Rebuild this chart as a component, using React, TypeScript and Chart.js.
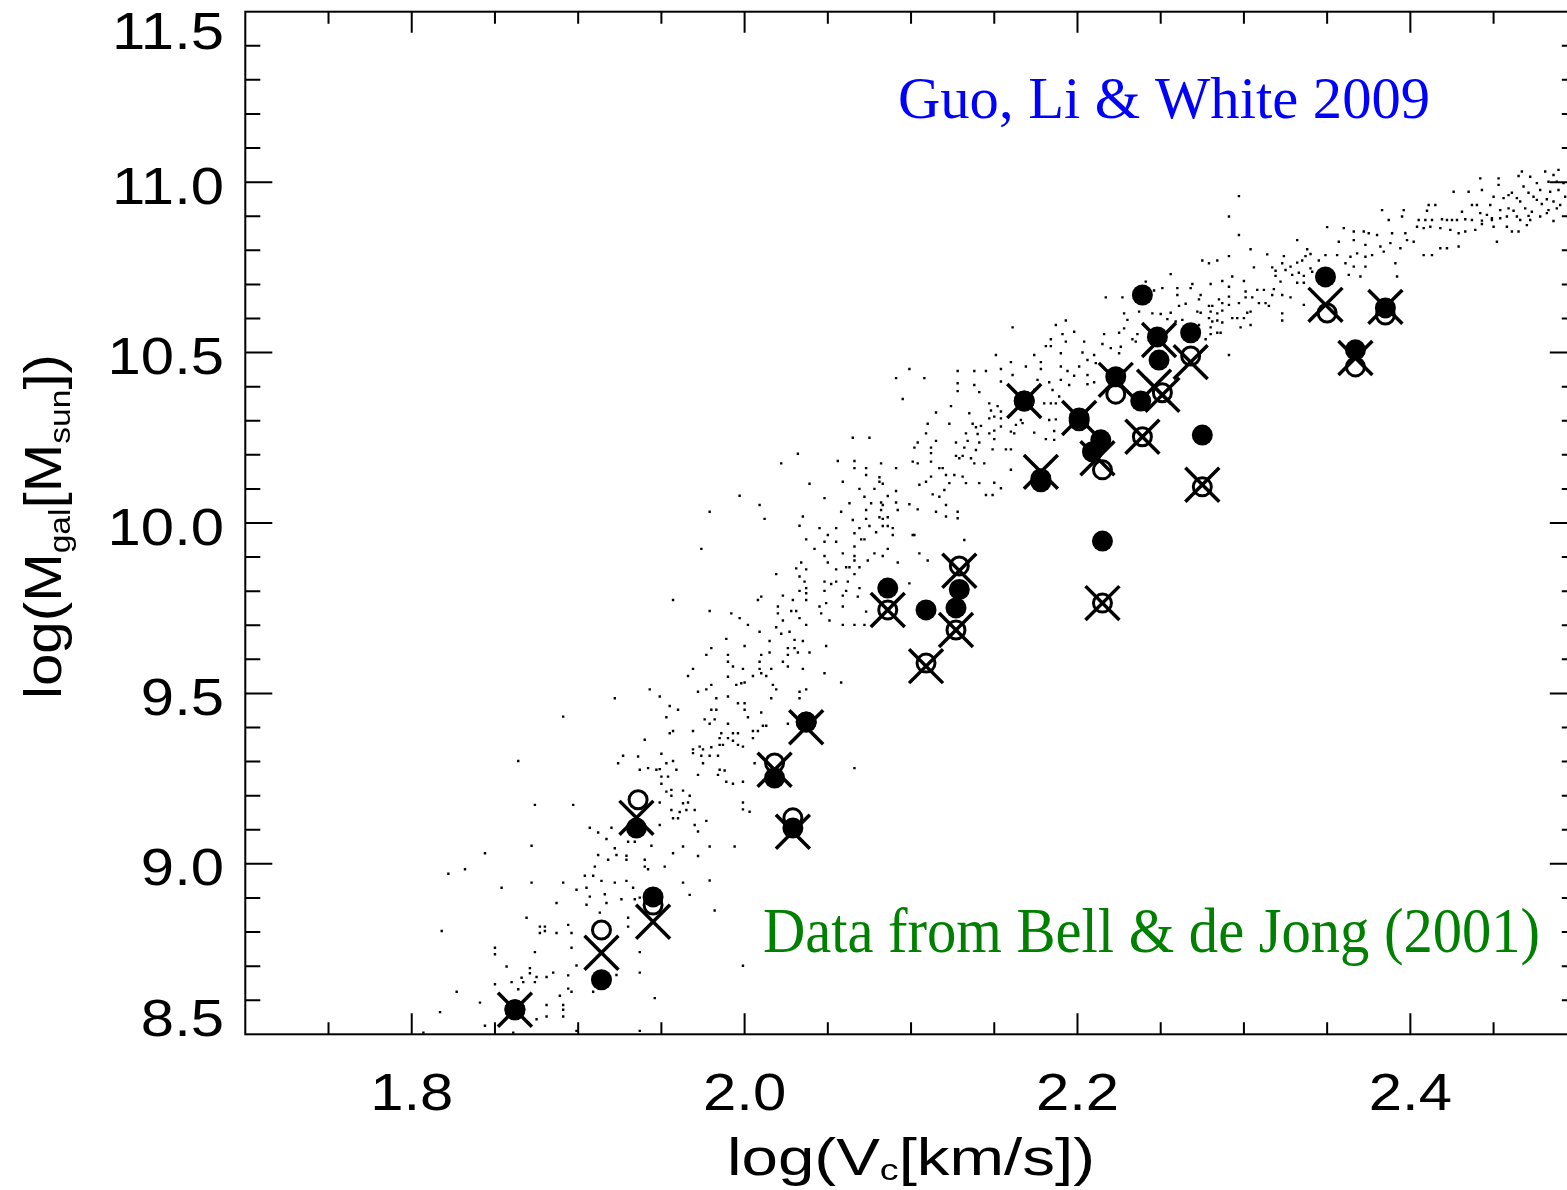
import React, { useEffect, useRef } from "react";
import { Chart, registerables } from "chart.js";

Chart.register(...registerables);

// ---- axis ranges & tick labels ----
const X_RANGE = [1.7, 2.5];
const Y_RANGE = [8.5, 11.5];
const xTickValues = [1.8, 2.0, 2.2, 2.4];
const xTickLabels = ["1.8", "2.0", "2.2", "2.4"];
const yTickValues = [8.5, 9.0, 9.5, 10.0, 10.5, 11.0, 11.5];
const yTickLabels = ["8.5", "9.0", "9.5", "10.0", "10.5", "11.0", "11.5"];

const annotationModel = "Guo, Li & White 2009";
const annotationData = "Data from Bell & de Jong (2001)";

// ---- Bell & de Jong (2001) galaxies: [log Vc, log Mgal] ----
const bellFilled: [number, number][] = [
  [1.862, 8.572], [1.914, 8.66], [1.945, 8.903], [1.935, 9.105], [2.018, 9.252], [2.029, 9.105],
  [2.037, 9.416], [2.086, 9.809], [2.109, 9.745], [2.129, 9.805], [2.127, 9.751], [2.168, 10.358],
  [2.178, 10.121], [2.201, 10.308], [2.215, 9.947], [2.214, 10.244], [2.209, 10.209], [2.223, 10.429],
  [2.239, 10.669], [2.238, 10.358], [2.248, 10.546], [2.249, 10.478], [2.268, 10.558], [2.275, 10.258],
  [2.349, 10.722], [2.367, 10.508], [2.385, 10.631],
];
const bellOpen: [number, number][] = [
  [1.862, 8.572], [1.914, 8.806], [1.945, 8.879], [1.936, 9.188], [2.018, 9.296], [2.029, 9.135],
  [2.037, 9.416], [2.086, 9.745], [2.109, 9.589], [2.129, 9.874], [2.127, 9.686], [2.168, 10.358],
  [2.178, 10.13], [2.201, 10.3], [2.215, 9.765], [2.215, 10.156], [2.223, 10.378], [2.239, 10.253],
  [2.251, 10.382], [2.268, 10.49], [2.275, 10.106], [2.35, 10.616], [2.367, 10.458], [2.385, 10.61],
];
const bellCross: [number, number][] = [
  [1.862, 8.572], [1.914, 8.739], [1.945, 8.83], [1.935, 9.135], [2.018, 9.276], [2.029, 9.094],
  [2.037, 9.401], [2.086, 9.745], [2.109, 9.58], [2.129, 9.86], [2.127, 9.686], [2.168, 10.358],
  [2.178, 10.15], [2.201, 10.308], [2.215, 9.765], [2.212, 10.19], [2.223, 10.42], [2.239, 10.253],
  [2.246, 10.4], [2.249, 10.537], [2.251, 10.376], [2.268, 10.472], [2.275, 10.112], [2.349, 10.64],
  [2.367, 10.484], [2.385, 10.634],
];

// ---- model galaxies (small dots): [log Vc, log Mgal] ----
const modelGalaxies: [number, number][] = [
  [1.891,9.432],[1.940,9.364],[1.864,9.302],[1.927,9.317],[1.924,9.295],[1.936,9.315],[1.937,9.276],[1.942,9.281],[1.947,9.276],[1.874,9.173],[1.897,9.173],[1.872,9.053],[1.844,9.031],[1.822,8.971],[1.832,8.984],[1.854,8.930],[1.872,8.945],[1.891,8.945],[1.907,9.106],[1.912,9.092],[1.917,9.073],[1.920,9.106],[1.922,9.046],[1.912,9.026],[1.918,9.012],[1.923,9.026],[1.929,9.024],[1.929,9.012],[1.930,9.065],[1.934,9.065],[1.944,9.053],[1.940,9.012],[1.940,8.992],[1.942,8.984],[1.910,8.992],[1.904,8.965],[1.909,8.965],[1.914,8.950],[1.922,8.945],[1.929,8.950],[1.899,8.924],[1.905,8.930],[1.907,8.904],[1.916,8.911],[1.933,8.930],[1.926,8.896],[1.905,8.880],[1.917,8.885],[1.887,8.885],[1.869,8.842],[1.913,8.857],[1.818,8.803],[1.877,8.816],[1.880,8.816],[1.877,8.797],[1.880,8.803],[1.887,8.797],[1.894,8.821],[1.896,8.797],[1.896,8.754],[1.874,8.741],[1.850,8.754],[1.850,8.735],[1.857,8.699],[1.871,8.694],[1.871,8.679],[1.875,8.668],[1.881,8.668],[1.885,8.681],[1.866,8.666],[1.867,8.653],[1.860,8.653],[1.864,8.632],[1.850,8.647],[1.874,8.653],[1.894,8.673],[1.899,8.702],[1.894,8.634],[1.896,8.625],[1.889,8.613],[1.891,8.586],[1.891,8.572],[1.891,8.552],[1.881,8.586],[1.881,8.552],[1.875,8.544],[1.841,8.593],[1.827,8.625],[1.817,8.565],[1.844,8.525],[1.807,8.505],[1.861,8.505],[1.909,8.625],[1.923,8.674],[1.937,8.741],[1.937,8.681],[1.946,8.606],[1.937,8.510],[1.899,8.510],[1.937,8.901],[1.934,8.896],[1.930,8.842],[1.930,8.816],
  [1.950,9.323],[1.969,9.325],[1.974,9.317],[1.979,9.317],[1.984,9.317],[1.949,9.278],[1.953,9.295],[1.957,9.302],[1.959,9.276],[1.972,9.261],[1.975,9.295],[1.985,9.276],[1.988,9.274],[1.984,9.261],[1.989,9.241],[1.993,9.235],[1.999,9.241],[2.006,9.295],[1.950,9.256],[1.954,9.256],[1.950,9.235],[1.953,9.212],[1.956,9.217],[1.956,9.200],[1.963,9.215],[1.967,9.200],[1.963,9.178],[1.966,9.180],[1.970,9.158],[1.965,9.158],[1.961,9.152],[1.956,9.158],[1.957,9.134],[1.960,9.134],[1.977,9.126],[1.970,9.114],[1.972,9.095],[1.949,9.114],[1.949,9.180],[1.999,9.180],[1.999,9.160],[2.003,9.153],[1.963,9.051],[1.972,9.023],[1.979,9.051],[1.994,9.051],[1.957,9.031],[1.952,8.992],[1.963,8.945],[1.967,8.909],[1.979,8.951],[1.982,8.863],[1.999,8.701],
  [2.065,10.250],[2.075,10.250],[2.032,10.203],[2.022,10.175],[2.056,10.182],[2.066,10.182],[2.066,10.161],[2.073,10.161],[2.082,10.175],[2.091,10.161],[2.073,10.141],[2.081,10.134],[2.081,10.121],[2.083,10.115],[2.059,10.121],[2.039,10.115],[2.069,10.100],[2.078,10.100],[2.091,10.094],[2.072,10.077],[2.086,10.079],[1.997,10.080],[2.009,10.053],[2.048,10.073],[2.063,10.058],[2.076,10.058],[2.082,10.060],[2.083,10.053],[2.091,10.060],[2.073,10.038],[2.082,10.038],[2.092,10.038],[1.979,10.033],[2.012,10.012],[2.035,10.019],[2.058,10.033],[2.065,10.009],[2.073,10.012],[2.081,10.017],[2.086,10.017],[2.083,10.012],[2.033,9.992],[2.045,9.985],[2.050,9.965],[2.055,9.985],[2.069,9.985],[2.075,9.991],[2.083,9.991],[2.086,9.991],[2.089,9.985],[2.066,9.970],[2.079,9.973],[2.089,9.965],[2.037,9.952],[2.048,9.945],[2.055,9.945],[2.070,9.952],[2.072,9.952],[2.066,9.931],[2.042,9.924],[2.086,9.924],[1.974,9.924],[2.059,9.911],[2.066,9.903],[2.078,9.911],[2.083,9.903],[2.048,9.903],[2.066,9.890],[2.074,9.890],[2.092,9.884],[2.034,9.884],[2.050,9.884],[2.031,9.867],[2.037,9.864],[2.055,9.864],[2.061,9.870],[2.063,9.870],[2.069,9.870],[2.066,9.850],[2.019,9.850],[2.033,9.843],[2.036,9.828],[2.048,9.828],[2.052,9.821],[2.055,9.828],[2.062,9.828],[2.069,9.809],[2.037,9.809],[2.033,9.801],[2.048,9.801],[2.061,9.801],[2.059,9.787],[2.068,9.784],[2.023,9.787],[2.037,9.794],[2.010,9.784],[2.008,9.774],[2.029,9.774],[2.037,9.774],[2.049,9.765],[1.957,9.774],[2.020,9.755],[2.045,9.755],[2.059,9.755],[2.020,9.735],[2.028,9.742],[2.031,9.742],[2.046,9.735],[2.073,9.740],[1.979,9.742],[1.992,9.735],[1.997,9.721],[2.033,9.721],[2.023,9.714],[2.051,9.714],[2.002,9.701],[2.019,9.694],[2.037,9.701],[2.059,9.701],[2.066,9.701],[2.072,9.701],[2.009,9.681],[2.022,9.675],[2.027,9.681],[1.989,9.660],[2.015,9.654],[2.030,9.657],[2.035,9.654],[1.980,9.633],[2.000,9.639],[2.026,9.633],[2.030,9.633],[2.049,9.639],[1.977,9.613],[1.990,9.613],[2.010,9.613],[2.015,9.620],[2.026,9.613],[2.032,9.620],[2.039,9.620],[1.990,9.593],[2.009,9.593],[2.023,9.593],[1.993,9.579],[1.969,9.572],[1.999,9.572],[2.009,9.572],[2.016,9.572],[2.026,9.579],[2.035,9.572],[1.966,9.551],[1.990,9.549],[2.005,9.551],[2.010,9.559],[2.013,9.551],[2.048,9.559],[1.943,9.512],[1.980,9.525],[1.995,9.525],[1.998,9.530],[2.000,9.532],[2.017,9.525],[2.019,9.512],[2.037,9.512],[2.058,9.532],[1.972,9.505],[1.977,9.512],[1.949,9.491],[1.922,9.486],[1.990,9.491],[2.016,9.486],[2.033,9.505],[2.033,9.486],[1.983,9.486],[1.955,9.463],[1.960,9.452],[1.980,9.452],[1.983,9.452],[1.996,9.471],[2.000,9.471],[2.000,9.452],[2.010,9.444],[1.953,9.430],[2.002,9.430],[1.976,9.424],[1.982,9.424],[1.979,9.411],[1.990,9.411],[2.011,9.405],[2.013,9.405],[2.026,9.411],[1.957,9.390],[1.955,9.383],[1.969,9.390],[1.986,9.383],[1.993,9.383],[1.996,9.383],[2.005,9.390],[2.008,9.390],[1.990,9.369],[1.985,9.369],[2.005,9.369],[1.993,9.361],[1.985,9.349],[1.987,9.349],[1.980,9.342],[1.996,9.349],[1.999,9.344],[1.973,9.344],[1.975,9.336],[1.969,9.336],[2.066,9.281],
  [2.151,10.493],[2.174,10.493],[2.190,10.498],[2.203,10.500],[2.210,10.493],[2.225,10.498],[2.291,10.493],[2.160,10.472],[2.169,10.459],[2.178,10.472],[2.178,10.452],[2.190,10.459],[2.194,10.446],[2.201,10.459],[2.206,10.478],[2.211,10.469],[2.099,10.452],[2.128,10.446],[2.138,10.446],[2.145,10.446],[2.154,10.452],[2.161,10.434],[2.091,10.425],[2.108,10.425],[2.128,10.410],[2.138,10.405],[2.154,10.415],[2.176,10.420],[2.183,10.413],[2.190,10.420],[2.195,10.405],[2.198,10.432],[2.206,10.434],[2.210,10.413],[2.206,10.407],[2.128,10.387],[2.141,10.384],[2.174,10.390],[2.185,10.390],[2.189,10.371],[2.095,10.364],[2.147,10.351],[2.152,10.343],[2.124,10.343],[2.115,10.324],[2.135,10.322],[2.148,10.330],[2.154,10.327],[2.150,10.312],[2.147,10.307],[2.154,10.307],[2.180,10.351],[2.184,10.351],[2.187,10.351],[2.187,10.304],[2.183,10.302],[2.166,10.302],[2.110,10.291],[2.123,10.291],[2.137,10.291],[2.139,10.281],[2.142,10.285],[2.154,10.283],[2.150,10.271],[2.160,10.268],[2.167,10.293],[2.174,10.265],[2.186,10.270],[2.109,10.263],[2.133,10.263],[2.140,10.261],[2.147,10.263],[2.162,10.263],[2.163,10.288],[2.104,10.236],[2.115,10.241],[2.127,10.236],[2.134,10.241],[2.141,10.236],[2.150,10.246],[2.181,10.246],[2.186,10.244],[2.102,10.221],[2.112,10.221],[2.132,10.221],[2.139,10.214],[2.149,10.216],[2.157,10.216],[2.160,10.216],[2.101,10.180],[2.104,10.175],[2.112,10.205],[2.112,10.180],[2.117,10.161],[2.119,10.161],[2.127,10.197],[2.129,10.190],[2.131,10.197],[2.136,10.190],[2.138,10.175],[2.144,10.175],[2.121,10.141],[2.126,10.141],[2.131,10.136],[2.123,10.117],[2.133,10.117],[2.141,10.117],[2.150,10.118],[2.160,10.156],[2.112,10.136],[2.105,10.112],[2.109,10.121],[2.113,10.084],[2.117,10.077],[2.120,10.097],[2.121,10.053],[2.145,10.082],[2.149,10.082],[2.154,10.102],[2.099,10.055],[2.104,10.040],[2.115,10.033],[2.128,10.033],[2.121,10.019],[2.128,10.014],[2.101,9.965],[2.102,9.965],[2.132,9.950],[2.105,9.911],[2.110,9.890],[2.099,9.823],
  [2.297,10.959],[2.291,10.899],[2.297,10.845],[2.350,10.868],[2.332,10.830],[2.338,10.803],[2.304,10.803],[2.314,10.788],[2.324,10.783],[2.291,10.783],[2.337,10.783],[2.340,10.789],[2.349,10.786],[2.275,10.770],[2.279,10.762],[2.284,10.770],[2.306,10.750],[2.317,10.750],[2.323,10.762],[2.328,10.752],[2.332,10.764],[2.335,10.770],[2.340,10.747],[2.345,10.770],[2.256,10.730],[2.293,10.723],[2.300,10.710],[2.319,10.740],[2.319,10.725],[2.325,10.742],[2.329,10.728],[2.333,10.734],[2.336,10.725],[2.341,10.737],[2.322,10.708],[2.332,10.705],[2.336,10.705],[2.241,10.708],[2.269,10.701],[2.280,10.701],[2.287,10.710],[2.291,10.693],[2.251,10.689],[2.260,10.689],[2.268,10.689],[2.260,10.669],[2.246,10.682],[2.217,10.662],[2.227,10.662],[2.261,10.637],[2.265,10.643],[2.273,10.656],[2.274,10.669],[2.279,10.637],[2.281,10.637],[2.285,10.656],[2.287,10.645],[2.291,10.664],[2.291,10.640],[2.297,10.645],[2.301,10.662],[2.305,10.662],[2.308,10.684],[2.312,10.684],[2.309,10.645],[2.313,10.645],[2.315,10.637],[2.317,10.669],[2.318,10.686],[2.323,10.669],[2.328,10.662],[2.336,10.640],[2.301,10.679],[2.256,10.617],[2.228,10.615],[2.237,10.620],[2.245,10.615],[2.250,10.613],[2.272,10.620],[2.274,10.617],[2.280,10.620],[2.284,10.615],[2.287,10.623],[2.293,10.601],[2.296,10.601],[2.300,10.601],[2.302,10.617],[2.304,10.620],[2.323,10.615],[2.323,10.594],[2.279,10.601],[2.281,10.591],[2.284,10.594],[2.287,10.588],[2.259,10.591],[2.263,10.596],[2.254,10.598],[2.230,10.596],[2.228,10.571],[2.225,10.558],[2.216,10.554],[2.236,10.554],[2.273,10.581],[2.280,10.574],[2.284,10.558],[2.286,10.558],[2.298,10.574],[2.304,10.581],[2.277,10.539],[2.280,10.554],[2.161,10.574],[2.187,10.581],[2.193,10.594],[2.191,10.554],[2.198,10.561],[2.184,10.539],[2.181,10.519],[2.184,10.519],[2.193,10.532],[2.204,10.532],[2.215,10.525],[2.220,10.513],[2.226,10.517],[2.235,10.532],[2.233,10.539],
  [2.442,11.011],[2.453,11.011],[2.467,11.031],[2.472,11.016],[2.481,11.031],[2.486,11.021],[2.465,11.018],[2.489,11.036],[2.476,10.997],[2.483,11.001],[2.488,11.001],[2.492,10.997],[2.426,10.972],[2.435,10.972],[2.443,10.977],[2.453,10.992],[2.468,10.987],[2.471,10.969],[2.478,10.977],[2.484,10.972],[2.489,10.977],[2.493,10.957],[2.450,10.957],[2.456,10.953],[2.459,10.962],[2.461,10.969],[2.464,10.953],[2.466,10.943],[2.474,10.957],[2.476,10.948],[2.482,10.950],[2.486,10.943],[2.490,10.933],[2.411,10.933],[2.415,10.933],[2.437,10.933],[2.440,10.933],[2.448,10.933],[2.454,10.918],[2.459,10.923],[2.462,10.916],[2.469,10.923],[2.473,10.913],[2.479,10.936],[2.483,10.918],[2.488,10.923],[2.383,10.918],[2.396,10.918],[2.410,10.916],[2.431,10.913],[2.442,10.909],[2.446,10.904],[2.449,10.894],[2.454,10.894],[2.458,10.899],[2.464,10.899],[2.466,10.889],[2.471,10.901],[2.478,10.899],[2.482,10.909],[2.387,10.889],[2.395,10.899],[2.405,10.889],[2.409,10.889],[2.413,10.889],[2.419,10.891],[2.422,10.889],[2.425,10.889],[2.428,10.889],[2.433,10.891],[2.437,10.889],[2.443,10.887],[2.449,10.889],[2.472,10.889],[2.486,10.886],[2.360,10.865],[2.366,10.855],[2.372,10.855],[2.375,10.850],[2.380,10.845],[2.389,10.850],[2.397,10.850],[2.404,10.869],[2.408,10.865],[2.412,10.869],[2.418,10.865],[2.424,10.860],[2.429,10.850],[2.433,10.855],[2.439,10.860],[2.443,10.877],[2.450,10.869],[2.458,10.869],[2.461,10.855],[2.465,10.855],[2.470,10.874],[2.452,10.825],[2.357,10.825],[2.366,10.830],[2.373,10.816],[2.382,10.811],[2.388,10.821],[2.394,10.806],[2.398,10.830],[2.402,10.825],[2.408,10.786],[2.413,10.786],[2.418,10.806],[2.422,10.806],[2.429,10.811],[2.356,10.786],[2.364,10.781],[2.368,10.791],[2.373,10.781],[2.377,10.786],[2.384,10.796],[2.391,10.762],[2.361,10.762],[2.366,10.752],[2.373,10.752],[2.363,10.728],[2.370,10.723],[2.392,10.723],
];

const SANS = '"Liberation Sans", Arial, Helvetica, sans-serif';
const SERIF = '"Liberation Serif", "Times New Roman", serif';

type Run = { text: string; size: number; dy: number };

function drawRuns(ctx: CanvasRenderingContext2D, runs: Run[], startX: number, baseline: number, targetWidth: number) {
  let total = 0;
  const widths: number[] = [];
  for (const r of runs) {
    ctx.font = `${r.size}px ${SANS}`;
    const w = ctx.measureText(r.text).width;
    widths.push(w);
    total += w;
  }
  const sx = targetWidth / total;
  ctx.save();
  ctx.translate(startX, baseline);
  ctx.scale(sx, 1);
  ctx.textAlign = "left";
  ctx.textBaseline = "alphabetic";
  let cx = 0;
  runs.forEach((r, i) => {
    ctx.font = `${r.size}px ${SANS}`;
    ctx.fillText(r.text, cx, r.dy);
    cx += widths[i];
  });
  ctx.restore();
}

function drawFitText(ctx: CanvasRenderingContext2D, text: string, font: string, x: number, baseline: number, width: number, color: string) {
  ctx.save();
  ctx.font = font;
  const w = ctx.measureText(text).width;
  ctx.translate(x, baseline);
  ctx.scale(width / w, 1);
  ctx.fillStyle = color;
  ctx.textAlign = "left";
  ctx.textBaseline = "alphabetic";
  ctx.fillText(text, 0, 0);
  ctx.restore();
}

const idlAxesPlugin = {
  id: "idlAxes",
  afterDraw(chart: any) {
    const ctx: CanvasRenderingContext2D = chart.ctx;
    const { left, right, top, bottom } = chart.chartArea;
    const xs = chart.scales.x;
    const ys = chart.scales.y;
    ctx.save();
    ctx.strokeStyle = "#000";
    ctx.fillStyle = "#000";
    ctx.lineWidth = 2;
    ctx.strokeRect(left, top, right - left, bottom - top);

    ctx.beginPath();
    // x ticks every 0.05, major every 0.2
    for (let i = 1; i < 16; i++) {
      const v = X_RANGE[0] + i * 0.05;
      const px = xs.getPixelForValue(v);
      const len = i % 4 === 2 ? 21 : 12;
      ctx.moveTo(px, bottom);
      ctx.lineTo(px, bottom - len);
      ctx.moveTo(px, top);
      ctx.lineTo(px, top + len);
    }
    // y ticks every 0.1, major every 0.5
    for (let i = 1; i < 30; i++) {
      const v = Y_RANGE[0] + i * 0.1;
      const py = ys.getPixelForValue(v);
      const len = i % 5 === 0 ? 27 : 15;
      ctx.moveTo(left, py);
      ctx.lineTo(left + len, py);
      ctx.moveTo(right, py);
      ctx.lineTo(right - len, py);
    }
    ctx.stroke();

    // tick labels
    const tickFont = `52px ${SANS}`;
    const sx = 1.15;
    ctx.font = tickFont;
    ctx.textBaseline = "alphabetic";
    xTickValues.forEach((v, i) => {
      const px = xs.getPixelForValue(v);
      ctx.save();
      ctx.translate(px, 1110);
      ctx.scale(sx, 1);
      ctx.textAlign = "center";
      ctx.fillText(xTickLabels[i], 0, 0);
      ctx.restore();
    });
    yTickValues.forEach((v, i) => {
      const py = ys.getPixelForValue(v);
      const cy = Math.min(Math.max(py + 3, top + 18.3), bottom - 17.3);
      ctx.save();
      ctx.translate(224, cy + 18.5);
      ctx.scale(sx, 1);
      ctx.textAlign = "right";
      ctx.fillText(yTickLabels[i], 0, 0);
      ctx.restore();
    });

    // axis titles
    const xTitle: Run[] = [
      { text: "log(V", size: 52, dy: 0 },
      { text: "c", size: 30, dy: 5 },
      { text: "[km/s])", size: 52, dy: 0 },
    ];
    drawRuns(ctx, xTitle, 727, 1175, 368);

    const yTitle: Run[] = [
      { text: "log(M", size: 52, dy: 0 },
      { text: "gal", size: 30, dy: 9 },
      { text: "[M", size: 52, dy: 0 },
      { text: "sun", size: 30, dy: 9 },
      { text: "])", size: 52, dy: 0 },
    ];
    ctx.save();
    ctx.translate(61, 527);
    ctx.rotate(-Math.PI / 2);
    drawRuns(ctx, yTitle, -172, 0, 345);
    ctx.restore();

    // annotations
    drawFitText(ctx, annotationModel, `59px ${SERIF}`, 898, 118, 532, "#0000ff");
    drawFitText(ctx, annotationData, `64px ${SERIF}`, 763, 952, 777, "#008000");
    ctx.restore();
  },
};

export default function App() {
  const canvasRef = useRef<HTMLCanvasElement | null>(null);

  useEffect(() => {
    const canvas = canvasRef.current;
    if (!canvas) return;
    const toXY = (arr: [number, number][]) => arr.map(([x, y]) => ({ x, y }));
    const chart = new Chart(canvas, {
      type: "scatter",
      data: {
        datasets: [
          {
            label: "Bell & de Jong (crosses)",
            data: toXY(bellCross),
            pointStyle: "crossRot",
            pointRadius: 24,
            borderColor: "#000",
            borderWidth: 3.5,
            backgroundColor: "#000",
            order: 1,
          },
          {
            label: "Bell & de Jong (open)",
            data: toXY(bellOpen),
            pointStyle: "circle",
            pointRadius: 9,
            borderColor: "#000",
            borderWidth: 3,
            backgroundColor: "rgba(0,0,0,0)",
            order: 2,
          },
          {
            label: "Bell & de Jong (filled)",
            data: toXY(bellFilled),
            pointStyle: "circle",
            pointRadius: 10.5,
            borderWidth: 0,
            backgroundColor: "#000",
            order: 3,
          },
          {
            label: "Guo, Li & White 2009 model",
            data: toXY(modelGalaxies),
            pointStyle: "rect",
            pointRadius: 1.7,
            borderWidth: 0,
            backgroundColor: "#000",
            order: 4,
          },
        ],
      },
      options: {
        animation: false,
        responsive: false,
        devicePixelRatio: 1,
        layout: { autoPadding: false, padding: { left: 245.3, right: 23.2, top: 11.7, bottom: 155.7 } },
        plugins: { legend: { display: false }, tooltip: { enabled: false } },
        events: [],
        scales: {
          x: { type: "linear", min: X_RANGE[0], max: X_RANGE[1], display: false },
          y: { type: "linear", min: Y_RANGE[0], max: Y_RANGE[1], display: false },
        },
      },
      plugins: [idlAxesPlugin],
    });
    return () => chart.destroy();
  }, []);

  return (
    <div style={{ position: "fixed", left: 0, top: 0, width: 1567, height: 1190, overflow: "hidden", background: "#fff" }}>
      <canvas ref={canvasRef} width={1600} height={1190} style={{ display: "block", width: 1600, height: 1190 }} />
    </div>
  );
}
